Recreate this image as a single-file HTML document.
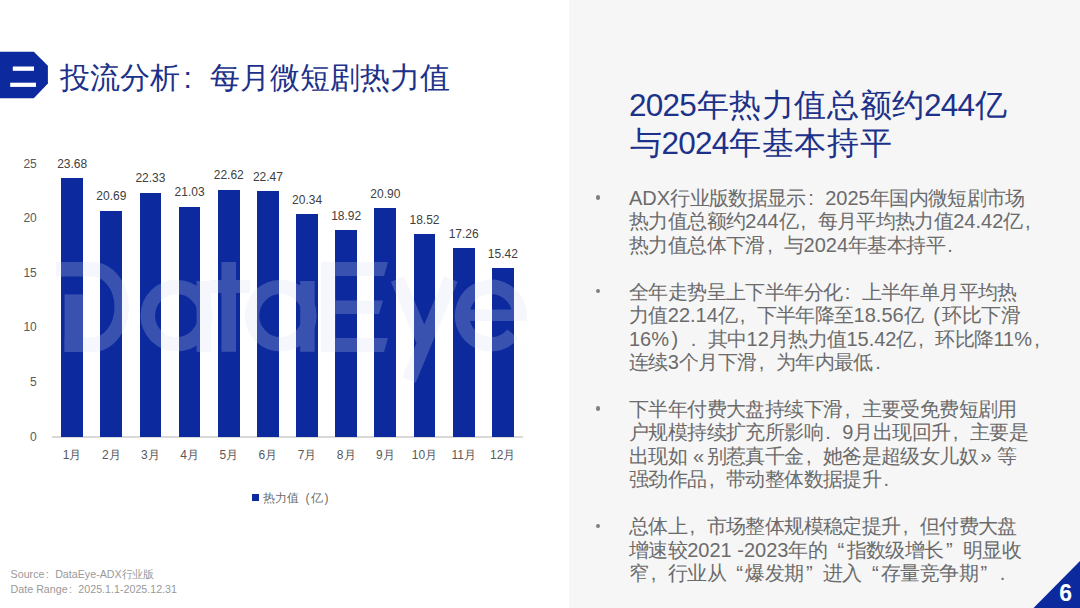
<!DOCTYPE html>
<html lang="zh"><head><meta charset="utf-8"><title>投流分析：每月微短剧热力值</title>
<style>
html,body{margin:0;padding:0}
body{width:1080px;height:608px;overflow:hidden;position:relative;background:#fff;font-family:"Liberation Sans",sans-serif;}
i{font-style:normal;display:inline-block;text-align:center;width:1em}
/* when no CJK font is available the glyphs fall back to outline boxes; thicken them to keep the visual weight of the text */
html:not(.cjk) i{-webkit-text-stroke:.07em currentColor}
.p{display:inline-block;width:1em}
.l{text-align:left;text-indent:.12em}
.r{text-align:right;padding-right:.12em;box-sizing:border-box}
.panel{position:absolute;left:569px;top:0;width:511px;height:608px;background:#f6f6f6}
.badge{position:absolute;left:0;top:0}
.title{position:absolute;left:60px;font-size:30px;line-height:1;color:#1c3189;white-space:nowrap}
.bar{position:absolute;background:#0c2a9d}
.axis{position:absolute;left:52px;top:436.4px;width:470.5px;height:1.2px;background:#d9d9d9}
.vl,.xl{position:absolute;width:60px;text-align:center;font-size:12px;line-height:1;color:#404040;white-space:nowrap}
.xl{color:#595959}
.yl{position:absolute;left:0;width:36.8px;text-align:right;font-size:12px;line-height:1;color:#595959}
.wm{position:absolute;left:0;top:0}
.lgsq{position:absolute;left:251.5px;top:494.3px;width:7.5px;height:7.2px;background:#0c2a9d}
.lg{position:absolute;left:263px;font-size:12px;line-height:1;color:#6a6a6a;white-space:nowrap}
.src{position:absolute;left:10.6px;font-size:10.7px;line-height:1;color:#999;white-space:nowrap}
.head{position:absolute;left:629px;font-size:31.5px;line-height:38.1px;color:#1c3189;white-space:nowrap;letter-spacing:-.8px}
.head i,.head .p{width:32.6px}
.body i,.body .p{width:19.4px}
.body{position:absolute;left:629px;font-size:20.0px;line-height:23.45px;color:#6b6b6b;white-space:nowrap}
.dot{position:absolute;left:595.6px;width:4.4px;height:4.4px;border-radius:50%;background:#808080}
.corner{position:absolute;right:0;bottom:0}
.pg{position:absolute;left:1059.2px;top:582.2px;font-size:23px;font-weight:bold;line-height:1;color:#fff}
</style></head>
<body>
<div class="panel"></div>
<svg class="badge" width="60" height="110" viewBox="0 0 60 110"><polygon points="0,51.7 33.8,51.7 47.9,65.7 47.9,83.5 33.8,98.3 0,98.3" fill="#0c2a9d"/><rect x="12.8" y="66.5" width="21.2" height="4.3" fill="#fff"/><rect x="10.2" y="82.7" width="25.8" height="4.2" fill="#fff"/></svg>
<div class="title" style="top:62.60px"><i>投</i><i>流</i><i>分</i><i>析</i><span class="p l">:</span><i>每</i><i>月</i><i>微</i><i>短</i><i>剧</i><i>热</i><i>力</i><i>值</i></div>
<div class="axis"></div>
<div class="bar" style="left:61.25px;top:177.98px;width:21.80px;height:258.82px"></div>
<div class="bar" style="left:100.40px;top:210.66px;width:21.80px;height:226.14px"></div>
<div class="bar" style="left:139.55px;top:192.73px;width:21.80px;height:244.07px"></div>
<div class="bar" style="left:178.70px;top:206.94px;width:21.80px;height:229.86px"></div>
<div class="bar" style="left:217.85px;top:189.56px;width:21.80px;height:247.24px"></div>
<div class="bar" style="left:257.00px;top:191.20px;width:21.80px;height:245.60px"></div>
<div class="bar" style="left:296.15px;top:214.48px;width:21.80px;height:222.32px"></div>
<div class="bar" style="left:335.30px;top:230.00px;width:21.80px;height:206.80px"></div>
<div class="bar" style="left:374.45px;top:208.36px;width:21.80px;height:228.44px"></div>
<div class="bar" style="left:413.60px;top:234.38px;width:21.80px;height:202.42px"></div>
<div class="bar" style="left:452.75px;top:248.15px;width:21.80px;height:188.65px"></div>
<div class="bar" style="left:491.90px;top:268.26px;width:21.80px;height:168.54px"></div>
<div class="vl" style="left:42.15px;top:157.52px">23.68</div>
<div class="vl" style="left:81.30px;top:190.20px">20.69</div>
<div class="vl" style="left:120.45px;top:172.28px">22.33</div>
<div class="vl" style="left:159.60px;top:186.48px">21.03</div>
<div class="vl" style="left:198.75px;top:169.11px">22.62</div>
<div class="vl" style="left:237.90px;top:170.74px">22.47</div>
<div class="vl" style="left:277.05px;top:194.03px">20.34</div>
<div class="vl" style="left:316.20px;top:209.55px">18.92</div>
<div class="vl" style="left:355.35px;top:187.91px">20.90</div>
<div class="vl" style="left:394.50px;top:213.92px">18.52</div>
<div class="vl" style="left:433.65px;top:227.69px">17.26</div>
<div class="vl" style="left:472.80px;top:247.80px">15.42</div>
<div class="xl" style="left:42.15px;top:449.04px">1<i>月</i></div>
<div class="xl" style="left:81.30px;top:449.04px">2<i>月</i></div>
<div class="xl" style="left:120.45px;top:449.04px">3<i>月</i></div>
<div class="xl" style="left:159.60px;top:449.04px">4<i>月</i></div>
<div class="xl" style="left:198.75px;top:449.04px">5<i>月</i></div>
<div class="xl" style="left:237.90px;top:449.04px">6<i>月</i></div>
<div class="xl" style="left:277.05px;top:449.04px">7<i>月</i></div>
<div class="xl" style="left:316.20px;top:449.04px">8<i>月</i></div>
<div class="xl" style="left:355.35px;top:449.04px">9<i>月</i></div>
<div class="xl" style="left:394.50px;top:449.04px">10<i>月</i></div>
<div class="xl" style="left:433.65px;top:449.04px">11<i>月</i></div>
<div class="xl" style="left:472.80px;top:449.04px">12<i>月</i></div>
<div class="yl" style="top:430.64px">0</div>
<div class="yl" style="top:376.04px">5</div>
<div class="yl" style="top:321.44px">10</div>
<div class="yl" style="top:266.84px">15</div>
<div class="yl" style="top:212.24px">20</div>
<div class="yl" style="top:157.64px">25</div>
<svg class="wm" width="1080" height="608" viewBox="0 0 1080 608"><title>DataEye</title><g opacity=".22" fill="#d7def2" stroke="#d7def2" stroke-width="14.4"><rect x="56" y="262" width="36" height="14.5" stroke="none"/><path fill="none" d="M91.9 269.2A29.8 37.8 0 0 1 91.9 344.8H64.6"/><rect x="64.6" y="294.4" width="19" height="57.6" stroke="none"/><circle cx="176.5" cy="315.6" r="28.7" fill="none"/><rect x="196.6" y="281" width="14.5" height="70.8" stroke="none"/><rect x="221.5" y="262" width="14.5" height="89.8" stroke="none"/><rect x="210" y="280" width="40" height="13" stroke="none"/><circle cx="280.7" cy="315.6" r="28.7" fill="none"/><rect x="300.2" y="281" width="14.5" height="70.8" stroke="none"/><rect x="321" y="262" width="14.5" height="90" stroke="none"/><path stroke="none" d="M321 262H388L384 276H321ZM321 300.5H383L379 314H321ZM321 338H388L384 352H321Z"/><path fill="none" d="M397.5 279L425 345M451 279L409 380"/><path fill="none" d="M519.5 315.6A28.7 28.7 0 1 0 512.8 334"/><rect x="462" y="309.5" width="64.6" height="11.5" stroke="none"/></g></svg>
<div class="lgsq"></div><div class="lg" style="top:491.84px"><i>热</i><i>力</i><i>值</i><span class="p r">(</span><i>亿</i><span class="p l">)</span></div>
<div class="src" style="top:569.24px">Source<span class="p l">:</span>DataEye-ADX<i>行</i><i>业</i><i>版</i></div><div class="src" style="top:583.54px">Date Range<span class="p l">:</span>2025.1.1-2025.12.31</div>
<div class="head" style="top:86.24px">2025<i>年</i><i>热</i><i>力</i><i>值</i><i>总</i><i>额</i><i>约</i>244<i>亿</i><br><i>与</i>2024<i>年</i><i>基</i><i>本</i><i>持</i><i>平</i></div>
<div class="dot" style="top:195.20px"></div>
<div class="dot" style="top:289.00px"></div>
<div class="dot" style="top:406.25px"></div>
<div class="dot" style="top:523.50px"></div>
<div class="body" style="top:186.84px">ADX<i>行</i><i>业</i><i>版</i><i>数</i><i>据</i><i>显</i><i>示</i><span class="p l">:</span>2025<i>年</i><i>国</i><i>内</i><i>微</i><i>短</i><i>剧</i><i>市</i><i>场</i><br><i>热</i><i>力</i><i>值</i><i>总</i><i>额</i><i>约</i>244<i>亿</i><span class="p l">,</span><i>每</i><i>月</i><i>平</i><i>均</i><i>热</i><i>力</i><i>值</i>24.42<i>亿</i><span class="p l">,</span><br><i>热</i><i>力</i><i>值</i><i>总</i><i>体</i><i>下</i><i>滑</i><span class="p l">,</span><i>与</i>2024<i>年</i><i>基</i><i>本</i><i>持</i><i>平</i><span class="p l">.</span><br><br><i>全</i><i>年</i><i>走</i><i>势</i><i>呈</i><i>上</i><i>下</i><i>半</i><i>年</i><i>分</i><i>化</i><span class="p l">:</span><i>上</i><i>半</i><i>年</i><i>单</i><i>月</i><i>平</i><i>均</i><i>热</i><br><i>力</i><i>值</i>22.14<i>亿</i><span class="p l">,</span><i>下</i><i>半</i><i>年</i><i>降</i><i>至</i>18.56<i>亿</i><span class="p r">(</span><i>环</i><i>比</i><i>下</i><i>滑</i><br>16%<span class="p l">)</span><span class="p l">.</span><i>其</i><i>中</i>12<i>月</i><i>热</i><i>力</i><i>值</i>15.42<i>亿</i><span class="p l">,</span><i>环</i><i>比</i><i>降</i>11%<span class="p l">,</span><br><i>连</i><i>续</i>3<i>个</i><i>月</i><i>下</i><i>滑</i><span class="p l">,</span><i>为</i><i>年</i><i>内</i><i>最</i><i>低</i><span class="p l">.</span><br><br><i>下</i><i>半</i><i>年</i><i>付</i><i>费</i><i>大</i><i>盘</i><i>持</i><i>续</i><i>下</i><i>滑</i><span class="p l">,</span><i>主</i><i>要</i><i>受</i><i>免</i><i>费</i><i>短</i><i>剧</i><i>用</i><br><i>户</i><i>规</i><i>模</i><i>持</i><i>续</i><i>扩</i><i>充</i><i>所</i><i>影</i><i>响</i><span class="p l">.</span>9<i>月</i><i>出</i><i>现</i><i>回</i><i>升</i><span class="p l">,</span><i>主</i><i>要</i><i>是</i><br><i>出</i><i>现</i><i>如</i><span class="p r">«</span><i>别</i><i>惹</i><i>真</i><i>千</i><i>金</i><span class="p l">,</span><i>她</i><i>爸</i><i>是</i><i>超</i><i>级</i><i>女</i><i>儿</i><i>奴</i><span class="p l">»</span><i>等</i><br><i>强</i><i>劲</i><i>作</i><i>品</i><span class="p l">,</span><i>带</i><i>动</i><i>整</i><i>体</i><i>数</i><i>据</i><i>提</i><i>升</i><span class="p l">.</span><br><br><i>总</i><i>体</i><i>上</i><span class="p l">,</span><i>市</i><i>场</i><i>整</i><i>体</i><i>规</i><i>模</i><i>稳</i><i>定</i><i>提</i><i>升</i><span class="p l">,</span><i>但</i><i>付</i><i>费</i><i>大</i><i>盘</i><br><i>增</i><i>速</i><i>较</i>2021 -2023<i>年</i><i>的</i><span class="p r">“</span><i>指</i><i>数</i><i>级</i><i>增</i><i>长</i><span class="p l">”</span><i>明</i><i>显</i><i>收</i><br><i>窄</i><span class="p l">,</span><i>行</i><i>业</i><i>从</i><span class="p r">“</span><i>爆</i><i>发</i><i>期</i><span class="p l">”</span><i>进</i><i>入</i><span class="p r">“</span><i>存</i><i>量</i><i>竞</i><i>争</i><i>期</i><span class="p l">”</span><span class="p l">.</span></div>
<svg class="corner" width="50" height="50" viewBox="0 0 50 50"><polygon points="3.5,50 50,3 50,50" fill="#0c2a9d"/></svg>
<div class="pg">6</div>
<script>(function(){var s=document.createElement("span");s.style.cssText="position:absolute;left:-9999px;top:0;font-size:100px;white-space:nowrap";s.textContent="永";document.body.appendChild(s);if(s.getBoundingClientRect().width>90)document.documentElement.className+=" cjk";document.body.removeChild(s);})();</script>
</body></html>
